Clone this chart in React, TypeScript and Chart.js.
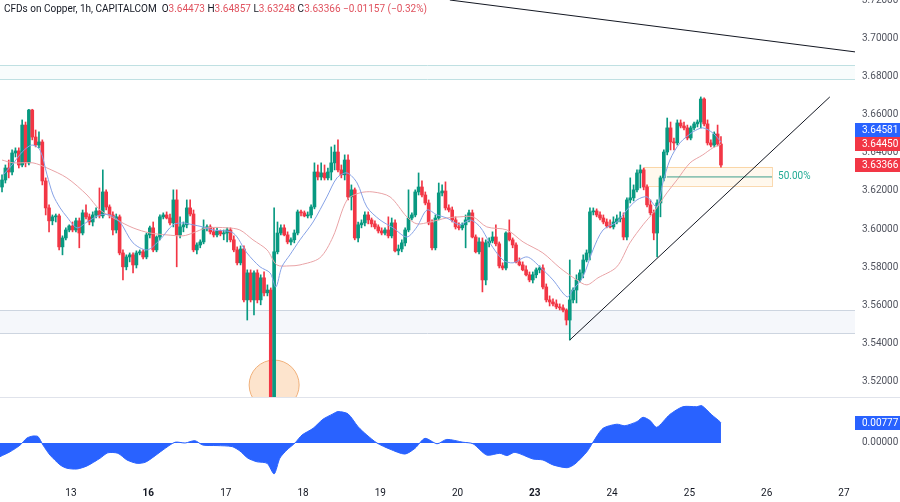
import React, { useEffect, useRef } from 'react';
import { Chart, registerables } from 'chart.js';

Chart.register(...registerables);

const FONT = 'Roboto, "Noto Sans", sans-serif';
Chart.defaults.font.family = FONT;

const UP = '#089981';
const DOWN = '#f23645';

// ---- candles (1h), index 0 .. 214 ----
const opens = [
  3.6221, 3.6258, 3.6321, 3.6300, 3.6400, 3.6411, 3.6337, 3.6547, 3.6348, 3.6626,
  3.6484, 3.6442, 3.6458, 3.6253, 3.6111, 3.6043, 3.6064, 3.6069, 3.5906, 3.5953,
  3.5995, 3.6016, 3.5995, 3.6043, 3.5979, 3.6085, 3.6064, 3.6037, 3.6074, 3.6095,
  3.6069, 3.6195, 3.6116, 3.6074, 3.5995, 3.6064, 3.5874, 3.5801, 3.5853, 3.5864,
  3.5811, 3.5874, 3.5880, 3.5853, 3.5969, 3.6006, 3.5890, 3.5958, 3.6064, 3.6074,
  3.6058, 3.6032, 3.6153, 3.5969, 3.6011, 3.6022, 3.6111, 3.6079, 3.5890, 3.5916,
  3.5932, 3.6006, 3.6011, 3.5985, 3.5969, 3.5990, 3.5974, 3.5979, 3.5995, 3.5943,
  3.5890, 3.5822, 3.5895, 3.5627, 3.5769, 3.5627, 3.5769, 3.5627, 3.5743, 3.5664,
  3.5679, 3.4880, 3.5880, 3.5979, 3.6006, 3.5969, 3.5932, 3.5943, 3.5979, 3.6090,
  3.6085, 3.6069, 3.6074, 3.6116, 3.6300, 3.6274, 3.6295, 3.6269, 3.6300, 3.6348,
  3.6405, 3.6311, 3.6285, 3.6363, 3.6169, 3.6206, 3.5953, 3.6022, 3.6032, 3.6074,
  3.6048, 3.6027, 3.6011, 3.5990, 3.5979, 3.5995, 3.5964, 3.6032, 3.5885, 3.5895,
  3.5927, 3.5995, 3.6058, 3.6074, 3.6195, 3.6221, 3.6179, 3.6137, 3.6032, 3.5901,
  3.6058, 3.6190, 3.6200, 3.6111, 3.6100, 3.6048, 3.6011, 3.6006, 3.6022, 3.6048,
  3.6085, 3.5958, 3.5880, 3.5932, 3.5732, 3.5927, 3.5937, 3.5958, 3.5922, 3.5806,
  3.5795, 3.5979, 3.5943, 3.5916, 3.5827, 3.5811, 3.5785, 3.5759, 3.5732, 3.5759,
  3.5785, 3.5795, 3.5695, 3.5627, 3.5616, 3.5606, 3.5590, 3.5585, 3.5574, 3.5521,
  3.5627, 3.5679, 3.5732, 3.5769, 3.5837, 3.5874, 3.6090, 3.6095, 3.6074, 3.6058,
  3.6037, 3.6016, 3.6011, 3.6037, 3.6053, 3.6058, 3.5958, 3.6153, 3.6164, 3.6206,
  3.6295, 3.6311, 3.6221, 3.6127, 3.6085, 3.5979, 3.6137, 3.6269, 3.6405, 3.6532,
  3.6458, 3.6453, 3.6558, 3.6542, 3.6532, 3.6479, 3.6532, 3.6553, 3.6563, 3.6684,
  3.6553, 3.6453, 3.6442, 3.6500, 3.64473,
];
const highs = [
  3.6285, 3.6337, 3.6363, 3.6416, 3.6427, 3.6427, 3.6574, 3.6563, 3.6630, 3.6630,
  3.6521, 3.6511, 3.6469, 3.6269, 3.6127, 3.6074, 3.6079, 3.6079, 3.5964, 3.6006,
  3.6022, 3.6037, 3.6058, 3.6058, 3.6100, 3.6127, 3.6079, 3.6090, 3.6111, 3.6216,
  3.6311, 3.6206, 3.6127, 3.6090, 3.6079, 3.6074, 3.5890, 3.5864, 3.5874, 3.5874,
  3.5885, 3.5890, 3.5890, 3.5979, 3.6016, 3.6037, 3.5964, 3.6074, 3.6085, 3.6090,
  3.6079, 3.6206, 3.6206, 3.6064, 3.6037, 3.6153, 3.6153, 3.6100, 3.5927, 3.5943,
  3.6048, 3.6022, 3.6022, 3.6006, 3.6006, 3.5995, 3.5995, 3.6006, 3.6006, 3.5964,
  3.5906, 3.5911, 3.5911, 3.5785, 3.5785, 3.5780, 3.5785, 3.5759, 3.5774, 3.5706,
  3.5690, 3.6111, 3.6037, 3.6022, 3.6022, 3.5985, 3.5953, 3.5995, 3.6100, 3.6100,
  3.6095, 3.6090, 3.6127, 3.6348, 3.6337, 3.6348, 3.6337, 3.6321, 3.6432, 3.6442,
  3.6469, 3.6337, 3.6390, 3.6390, 3.6232, 3.6216, 3.6037, 3.6048, 3.6090, 3.6090,
  3.6058, 3.6043, 3.6022, 3.6006, 3.6006, 3.6064, 3.6058, 3.6048, 3.5916, 3.5943,
  3.6006, 3.6206, 3.6085, 3.6206, 3.6295, 3.6253, 3.6195, 3.6153, 3.6048, 3.6074,
  3.6242, 3.6232, 3.6248, 3.6127, 3.6116, 3.6064, 3.6032, 3.6032, 3.6074, 3.6100,
  3.6100, 3.5969, 3.5953, 3.5953, 3.5943, 3.5953, 3.5985, 3.6022, 3.5932, 3.5822,
  3.5985, 3.6048, 3.5953, 3.5927, 3.5848, 3.5827, 3.5806, 3.5774, 3.5774, 3.5795,
  3.5806, 3.5811, 3.5711, 3.5648, 3.5632, 3.5627, 3.5606, 3.5601, 3.5580, 3.5837,
  3.5690, 3.5759, 3.5785, 3.5864, 3.5890, 3.6111, 3.6111, 3.6106, 3.6090, 3.6074,
  3.6053, 3.6048, 3.6064, 3.6074, 3.6090, 3.6085, 3.6164, 3.6269, 3.6232, 3.6311,
  3.6337, 3.6321, 3.6232, 3.6153, 3.6100, 3.6153, 3.6279, 3.6416, 3.6584, 3.6563,
  3.6479, 3.6574, 3.6574, 3.6563, 3.6547, 3.6542, 3.6563, 3.6574, 3.6695, 3.6690,
  3.6574, 3.6469, 3.6511, 3.6547, 3.64857,
];
const lows = [
  3.6195, 3.6242, 3.6269, 3.6285, 3.6379, 3.6321, 3.6327, 3.6327, 3.6337, 3.6469,
  3.6432, 3.6427, 3.6232, 3.6074, 3.5985, 3.6022, 3.6037, 3.5890, 3.5864, 3.5943,
  3.5985, 3.5985, 3.5985, 3.5901, 3.5969, 3.6053, 3.6022, 3.6016, 3.6058, 3.6058,
  3.6058, 3.6100, 3.6058, 3.5969, 3.5979, 3.5864, 3.5732, 3.5785, 3.5827, 3.5769,
  3.5795, 3.5864, 3.5843, 3.5843, 3.5953, 3.5880, 3.5880, 3.5943, 3.6053, 3.6053,
  3.6022, 3.6011, 3.5801, 3.5953, 3.5985, 3.6006, 3.6069, 3.5880, 3.5869, 3.5901,
  3.5922, 3.5990, 3.5974, 3.5958, 3.5958, 3.5964, 3.5943, 3.5932, 3.5932, 3.5880,
  3.5811, 3.5811, 3.5616, 3.5521, 3.5616, 3.5548, 3.5611, 3.5601, 3.5648, 3.5648,
  3.4850, 3.4850, 3.5869, 3.5969, 3.5964, 3.5922, 3.5916, 3.5927, 3.5969, 3.6069,
  3.6064, 3.6058, 3.6058, 3.6106, 3.6258, 3.6258, 3.6258, 3.6258, 3.6258, 3.6311,
  3.6300, 3.6269, 3.6258, 3.6153, 3.6100, 3.5943, 3.5932, 3.6006, 3.6016, 3.6027,
  3.6011, 3.6000, 3.5979, 3.5969, 3.5969, 3.5953, 3.5953, 3.5880, 3.5864, 3.5880,
  3.5911, 3.5985, 3.6048, 3.6064, 3.6179, 3.6169, 3.6127, 3.6022, 3.5890, 3.5890,
  3.6048, 3.6174, 3.6100, 3.6090, 3.6037, 3.6000, 3.5995, 3.5995, 3.5901, 3.6037,
  3.5953, 3.5874, 3.5869, 3.5669, 3.5706, 3.5906, 3.5927, 3.5911, 3.5795, 3.5785,
  3.5785, 3.5937, 3.5901, 3.5822, 3.5806, 3.5780, 3.5753, 3.5722, 3.5716, 3.5743,
  3.5769, 3.5685, 3.5616, 3.5595, 3.5595, 3.5580, 3.5574, 3.5564, 3.5495, 3.5416,
  3.5611, 3.5611, 3.5722, 3.5743, 3.5827, 3.5837, 3.6074, 3.6064, 3.6048, 3.6027,
  3.6006, 3.6006, 3.6000, 3.6027, 3.6037, 3.5943, 3.5943, 3.6137, 3.6148, 3.6195,
  3.6216, 3.6206, 3.6116, 3.6074, 3.5943, 3.5853, 3.6064, 3.6253, 3.6390, 3.6416,
  3.6416, 3.6442, 3.6532, 3.6521, 3.6469, 3.6469, 3.6521, 3.6537, 3.6532, 3.6542,
  3.6442, 3.6432, 3.6432, 3.6437, 3.63248,
];
const closes = [
  3.6258, 3.6321, 3.6300, 3.6400, 3.6411, 3.6337, 3.6547, 3.6348, 3.6626, 3.6484,
  3.6442, 3.6458, 3.6253, 3.6111, 3.6043, 3.6064, 3.6069, 3.5906, 3.5953, 3.5995,
  3.6016, 3.5995, 3.6043, 3.5979, 3.6085, 3.6064, 3.6037, 3.6074, 3.6095, 3.6069,
  3.6195, 3.6116, 3.6074, 3.5995, 3.6064, 3.5874, 3.5801, 3.5853, 3.5864, 3.5811,
  3.5874, 3.5880, 3.5853, 3.5969, 3.6006, 3.5890, 3.5958, 3.6064, 3.6074, 3.6058,
  3.6032, 3.6153, 3.5969, 3.6011, 3.6022, 3.6111, 3.6079, 3.5890, 3.5916, 3.5932,
  3.6006, 3.6011, 3.5985, 3.5969, 3.5990, 3.5974, 3.5979, 3.5995, 3.5943, 3.5890,
  3.5822, 3.5895, 3.5627, 3.5769, 3.5627, 3.5769, 3.5627, 3.5743, 3.5664, 3.5679,
  3.4880, 3.5880, 3.5979, 3.6006, 3.5969, 3.5932, 3.5943, 3.5979, 3.6090, 3.6085,
  3.6069, 3.6074, 3.6116, 3.6300, 3.6274, 3.6295, 3.6269, 3.6300, 3.6348, 3.6405,
  3.6311, 3.6285, 3.6363, 3.6169, 3.6206, 3.5953, 3.6022, 3.6032, 3.6074, 3.6048,
  3.6027, 3.6011, 3.5990, 3.5979, 3.5995, 3.5964, 3.6032, 3.5885, 3.5895, 3.5927,
  3.5995, 3.6058, 3.6074, 3.6195, 3.6221, 3.6179, 3.6137, 3.6032, 3.5901, 3.6058,
  3.6190, 3.6200, 3.6111, 3.6100, 3.6048, 3.6011, 3.6006, 3.6022, 3.6048, 3.6085,
  3.5958, 3.5880, 3.5932, 3.5732, 3.5927, 3.5937, 3.5958, 3.5922, 3.5806, 3.5795,
  3.5979, 3.5943, 3.5916, 3.5827, 3.5811, 3.5785, 3.5759, 3.5732, 3.5759, 3.5785,
  3.5795, 3.5695, 3.5627, 3.5616, 3.5606, 3.5590, 3.5585, 3.5574, 3.5521, 3.5627,
  3.5679, 3.5732, 3.5769, 3.5837, 3.5874, 3.6090, 3.6095, 3.6074, 3.6058, 3.6037,
  3.6016, 3.6011, 3.6037, 3.6053, 3.6058, 3.5958, 3.6153, 3.6164, 3.6206, 3.6295,
  3.6311, 3.6221, 3.6127, 3.6085, 3.5979, 3.6137, 3.6269, 3.6405, 3.6532, 3.6458,
  3.6453, 3.6558, 3.6542, 3.6532, 3.6479, 3.6532, 3.6553, 3.6563, 3.6684, 3.6553,
  3.6453, 3.6442, 3.6500, 3.6447, 3.63366,
];

// ---- moving averages (read at sample candles) ----
const fastMaIdx = [
  0.3, 3.0, 6.0, 8.9, 11.3, 13.4, 15.2, 17.3, 19.3, 22.3,
  25.3, 29.2, 32.1, 35.1, 39.0, 43.2, 47.0, 50.9, 53.9, 56.8,
  59.8, 62.8, 68.8, 72.9, 76.8, 79.8, 81.5, 83.3, 85.7, 88.7,
  92.6, 96.7, 99.7, 102.7, 105.7, 108.6, 112.5, 116.4, 120.5, 123.5,
  126.5, 129.5, 132.4, 136.3, 139.3, 142.3, 145.2, 149.1, 152.1, 156.3,
  160.1, 164.0, 168.2, 169.9, 172.9, 175.9, 178.9, 183.0, 186.0, 189.0,
  192.0, 194.9, 196.7, 198.8, 201.8, 205.7, 208.6, 211.6, 214,
];
const fastMaVal = [
  3.6285, 3.6337, 3.6405, 3.6442, 3.6416, 3.6285, 3.6179, 3.6111, 3.6064, 3.6006,
  3.6037, 3.6074, 3.6074, 3.6037, 3.5927, 3.5890, 3.5943, 3.6022, 3.6032, 3.6022,
  3.6011, 3.5995, 3.5979, 3.5874, 3.5801, 3.5769, 3.5695, 3.5801, 3.5864, 3.5943,
  3.6037, 3.6169, 3.6269, 3.6295, 3.6242, 3.6116, 3.6048, 3.6006, 3.5958, 3.6011,
  3.6100, 3.6074, 3.6058, 3.6022, 3.6048, 3.6011, 3.5927, 3.5837, 3.5822, 3.5853,
  3.5801, 3.5732, 3.5643, 3.5679, 3.5748, 3.5890, 3.5995, 3.6037, 3.6100, 3.6153,
  3.6169, 3.6116, 3.6242, 3.6363, 3.6453, 3.6511, 3.6532, 3.6505, 3.64581,
];
const slowMaIdx = [
  0, 3.3, 9.2, 13.4, 19.3, 25.3, 29.2, 34.2, 39.0, 44.0,
  49.1, 53.9, 56.8, 61.0, 67.0, 70.8, 74.7, 78.9, 81.8, 85.7,
  88.7, 94.6, 98.5, 102.7, 106.5, 110.4, 115.5, 120.5, 123.5, 127.4,
  132.4, 136.3, 140.2, 144.3, 150.3, 155.1, 161.0, 166.1, 171.1, 174.1,
  177.4, 183.0, 186.9, 190.8, 193.8, 197.9, 200.9, 204.8, 208.6, 211.6,
  214,
];
const slowMaVal = [
  3.6363, 3.6348, 3.6348, 3.6321, 3.6269, 3.6179, 3.6100, 3.6048, 3.6006, 3.5979,
  3.5969, 3.5964, 3.5979, 3.6006, 3.6006, 3.5995, 3.5943, 3.5890, 3.5811, 3.5806,
  3.5811, 3.5848, 3.5958, 3.6153, 3.6190, 3.6195, 3.6169, 3.6064, 3.6027, 3.6037,
  3.6058, 3.6064, 3.6064, 3.6011, 3.5995, 3.5932, 3.5874, 3.5795, 3.5732, 3.5706,
  3.5743, 3.5801, 3.5927, 3.6022, 3.6085, 3.6190, 3.6258, 3.6348, 3.6390, 3.6427,
  3.64450,
];

// ---- lower oscillator ----
const oscIdx = [
  -0.6, 2.4, 5.4, 7.4, 9.2, 10.7, 12.2, 14.3, 17.3, 19.3,
  22.3, 25.3, 29.2, 31.5, 34.5, 37.2, 40.2, 42.6, 44.9, 47.9,
  51.5, 54.5, 57.4, 59.8, 64.0, 68.5, 70.8, 73.2, 75.9, 78.9,
  81.0, 82.7, 84.8, 87.2, 89.3, 92.6, 95.5, 98.5, 100.0, 103.0,
  106.0, 108.6, 111.6, 115.5, 119.9, 122.9, 125.9, 129.5, 132.4, 137.2,
  140.2, 144.3, 148.2, 150.3, 152.7, 158.0, 161.0, 164.0, 168.2, 170.5,
  174.1, 175.9, 178.9, 183.0, 185.4, 189.0, 190.8, 192.9, 194.9, 198.8,
  202.7, 206.8, 208.3, 211.3, 213.7, 214,
];
const oscVal = [
  -0.0053, -0.0034, -0.0008, 0.0019, 0.0027, 0.0025, -0.0008, -0.0047, -0.0085, -0.0098,
  -0.0101, -0.0089, -0.0059, -0.0038, -0.0040, -0.0066, -0.0079, -0.0075, -0.0056, -0.0027,
  0.0003, 0.0000, 0.0009, -0.0008, -0.0010, -0.0014, -0.0031, -0.0059, -0.0073, -0.0079,
  -0.0120, -0.0059, -0.0027, 0.0000, 0.0031, 0.0057, 0.0092, 0.0113, 0.0122, 0.0113,
  0.0063, 0.0031, 0.0000, -0.0024, -0.0043, -0.0021, 0.0018, -0.0003, 0.0014, 0.0003,
  -0.0003, -0.0047, -0.0040, -0.0049, -0.0036, -0.0062, -0.0066, -0.0085, -0.0096, -0.0082,
  -0.0034, 0.0003, 0.0057, 0.0073, 0.0067, 0.0083, 0.0100, 0.0087, 0.0061, 0.0111,
  0.0141, 0.0141, 0.0145, 0.0109, 0.0083, 0.00777,
];

// ---- axes ----
const priceTicks = [3.52, 3.54, 3.56, 3.58, 3.6, 3.62, 3.64, 3.66, 3.68, 3.7, 3.72];
const dayTicks = [20.5, 43.5, 66.6, 89.6, 112.6, 135.6, 158.6, 181.6, 204.6, 227.6, 250.6];
const dayLabels = ['13', '16', '17', '18', '19', '20', '23', '24', '25', '26', '27'];
const weekStarts = ['16', '23'];

// ---- drawings ----
const upperZone = [3.6789, 3.6863];
const lowerZone = [3.5453, 3.5574];
const trendDownIdx = [133.3, 253.9];
const trendDownPrice = [3.7205, 3.6932];
const trendUpIdx = [169, 246.4];
const trendUpPrice = [3.5416, 3.6695];
const fibBoxIdx = [191.1, 229.2];
const fibBoxPrice = [3.6227, 3.6327];
const fibLineIdx = [197.9, 229.2];
const fibMid = 3.6274;
const circleAt = [81.0, 3.5179];

const X_MIN = -0.6;
const X_MAX = 253.9;
const Y_MIN = 3.5116;
const Y_MAX = 3.7205;
const OSC_MIN = -0.01515;
const OSC_MAX = 0.01748;
const AXIS_W = 45;
const AXIS_FONT = { family: FONT, size: 10 };

function fixYAxis(scale: any) {
  scale.width = AXIS_W;
  scale.paddingTop = 0;
  scale.paddingBottom = 0;
}

function priceBox(ctx: any, a: any, yc: number, text: string, color: string) {
  const h = 14;
  ctx.fillStyle = color;
  ctx.fillRect(a.right, Math.round(yc - h / 2), 900 - a.right, h);
  ctx.fillStyle = '#ffffff';
  ctx.font = `10px ${FONT}`;
  ctx.textAlign = 'left';
  ctx.textBaseline = 'middle';
  ctx.fillText(text, a.right + 7, Math.round(yc) + 0.5);
}

const decorPlugin = {
  id: 'decor',
  beforeDatasetsDraw(chart: any) {
    const { ctx, chartArea: a, scales } = chart;
    const xs = scales.x;
    const ys = scales.y;
    ctx.save();
    ctx.beginPath();
    ctx.rect(a.left, a.top, a.right - a.left, a.bottom - a.top);
    ctx.clip();
    const zone = (lo: number, hi: number, fill: string, line: string) => {
      const y1 = ys.getPixelForValue(hi);
      const y2 = ys.getPixelForValue(lo);
      ctx.fillStyle = fill;
      ctx.fillRect(a.left, y1, a.right - a.left, y2 - y1);
      ctx.strokeStyle = line;
      ctx.lineWidth = 1;
      [y1, y2].forEach((yy) => {
        const p = Math.round(yy) + 0.5;
        ctx.beginPath();
        ctx.moveTo(a.left, p);
        ctx.lineTo(a.right, p);
        ctx.stroke();
      });
    };
    zone(upperZone[0], upperZone[1], '#f8fcfc', '#bfe0e2');
    zone(lowerZone[0], lowerZone[1], '#f5f7fb', '#cdd5e0');

    // fib box
    const bx1 = xs.getPixelForValue(fibBoxIdx[0]);
    const bx2 = xs.getPixelForValue(fibBoxIdx[1]);
    const by1 = ys.getPixelForValue(fibBoxPrice[1]);
    const by2 = ys.getPixelForValue(fibBoxPrice[0]);
    ctx.fillStyle = 'rgba(255,152,0,0.07)';
    ctx.fillRect(bx1, by1, bx2 - bx1, by2 - by1);
    ctx.strokeStyle = 'rgba(245,170,80,0.45)';
    ctx.strokeRect(Math.round(bx1) + 0.5, Math.round(by1) + 0.5, Math.round(bx2 - bx1), Math.round(by2 - by1));

    // circle
    const cx = xs.getPixelForValue(circleAt[0]);
    const cy = ys.getPixelForValue(circleAt[1]);
    ctx.beginPath();
    ctx.arc(cx, cy, 25, 0, Math.PI * 2);
    ctx.fillStyle = '#fde4cd';
    ctx.fill();
    ctx.strokeStyle = '#f0b07a';
    ctx.lineWidth = 1;
    ctx.stroke();
    ctx.restore();
  },
  afterDatasetsDraw(chart: any) {
    const { ctx, scales } = chart;
    const xs = scales.x;
    const ys = scales.y;
    ctx.save();
    ctx.fillStyle = '#22ab94';
    ctx.font = `10px ${FONT}`;
    ctx.textAlign = 'left';
    ctx.textBaseline = 'middle';
    ctx.fillText('50.00%', xs.getPixelForValue(fibBoxIdx[1]) + 6, ys.getPixelForValue(fibMid));
    ctx.restore();
  },
  afterDraw(chart: any) {
    const { ctx, chartArea: a, scales } = chart;
    const ys = scales.y;
    const last = closes.length - 1;
    const items = [
      { v: fastMaVal[fastMaVal.length - 1], c: '#2962ff' },
      { v: slowMaVal[slowMaVal.length - 1], c: DOWN },
      { v: closes[last], c: closes[last] >= opens[last] ? UP : DOWN },
    ].map((it) => ({ ...it, y: ys.getPixelForValue(it.v) }));
    items.sort((p, q) => q.y - p.y);
    for (let i = 1; i < items.length; i++) {
      if (items[i].y > items[i - 1].y - 14) items[i].y = items[i - 1].y - 14;
    }
    ctx.save();
    items.forEach((it) => priceBox(ctx, a, it.y, it.v.toFixed(5), it.c));
    ctx.restore();
  },
};

const oscPlugin = {
  id: 'oscLabel',
  afterDraw(chart: any) {
    const { ctx, chartArea: a, scales } = chart;
    const v = oscVal[oscVal.length - 1];
    ctx.save();
    priceBox(ctx, a, scales.y.getPixelForValue(v), v.toFixed(5), '#2962ff');
    ctx.restore();
  },
};

export default function App() {
  const mainRef = useRef<HTMLCanvasElement>(null);
  const oscRef = useRef<HTMLCanvasElement>(null);

  useEffect(() => {
    const colorOf = (c: any) => {
      const i = c.dataIndex;
      return closes[i] >= opens[i] ? UP : DOWN;
    };
    const bodyData = closes.map((c, i) => ({ x: i, y: [opens[i], c] }));
    const wickData = closes.map((_, i) => ({ x: i, y: [lows[i], highs[i]] }));
    const pts = (xs: number[], vs: number[]) => xs.map((x, i) => ({ x, y: vs[i] }));

    const main = new Chart(mainRef.current as HTMLCanvasElement, {
      type: 'bar',
      data: {
        datasets: [
          {
            type: 'line', data: pts(trendDownIdx, trendDownPrice), borderColor: '#131722',
            borderWidth: 1, pointRadius: 0, order: 0,
          } as any,
          {
            type: 'line', data: pts(trendUpIdx, trendUpPrice), borderColor: '#131722',
            borderWidth: 1, pointRadius: 0, order: 0,
          } as any,
          {
            type: 'line', data: pts(fibLineIdx, [fibMid, fibMid]), borderColor: '#3d9e8c',
            borderWidth: 1, pointRadius: 0, order: 0,
          } as any,
          {
            type: 'line', data: pts(fastMaIdx, fastMaVal), borderColor: '#86a2e6',
            borderWidth: 1, pointRadius: 0, tension: 0.3, order: 1,
          } as any,
          {
            type: 'line', data: pts(slowMaIdx, slowMaVal), borderColor: '#e9a3a6',
            borderWidth: 1, pointRadius: 0, tension: 0.3, order: 1,
          } as any,
          {
            type: 'bar', data: bodyData, backgroundColor: colorOf, barThickness: 3,
            minBarLength: 1, grouped: false, order: 2,
          } as any,
          {
            type: 'bar', data: wickData, backgroundColor: colorOf, barThickness: 1,
            grouped: false, order: 3,
          } as any,
        ],
      },
      options: {
        responsive: false,
        animation: false,
        events: [],
        layout: { padding: 0 },
        plugins: { legend: { display: false }, tooltip: { enabled: false } },
        scales: {
          x: { type: 'linear', min: X_MIN, max: X_MAX, display: false, offset: false },
          y: {
            type: 'linear', position: 'right', min: Y_MIN, max: Y_MAX,
            grid: { display: false, drawTicks: false }, border: { display: false },
            afterBuildTicks: (s: any) => { s.ticks = priceTicks.map((v) => ({ value: v })); },
            afterFit: fixYAxis,
            ticks: {
              callback: (v: any) => Number(v).toFixed(5), color: '#50535e',
              font: AXIS_FONT, padding: 7,
            },
          },
        },
      } as any,
      plugins: [decorPlugin],
    });

    const osc = new Chart(oscRef.current as HTMLCanvasElement, {
      type: 'line',
      data: {
        datasets: [
          {
            data: pts(oscIdx, oscVal), borderColor: '#2962ff', backgroundColor: '#2962ff',
            fill: 'origin', borderWidth: 1, pointRadius: 0, tension: 0.25,
          },
        ],
      },
      options: {
        responsive: false,
        animation: false,
        events: [],
        layout: { padding: 0 },
        plugins: { legend: { display: false }, tooltip: { enabled: false } },
        scales: {
          x: {
            type: 'linear', min: X_MIN, max: X_MAX, offset: false,
            grid: { display: false, drawTicks: false }, border: { display: false },
            afterBuildTicks: (s: any) => { s.ticks = dayTicks.map((v) => ({ value: v })); },
            afterFit: (s: any) => { s.height = 20; s.paddingLeft = 0; s.paddingRight = 0; },
            ticks: {
              autoSkip: false, maxRotation: 0, padding: 5, color: '#131722',
              callback: (_v: any, i: number) => dayLabels[i],
              font: (c: any) => ({
                family: FONT, size: 10,
                weight: weekStarts.includes(dayLabels[c.index]) ? 'bold' : 'normal',
              }),
            },
          },
          y: {
            type: 'linear', position: 'right', min: OSC_MIN, max: OSC_MAX,
            grid: { display: false, drawTicks: false }, border: { display: false },
            afterBuildTicks: (s: any) => { s.ticks = [{ value: 0 }]; },
            afterFit: fixYAxis,
            ticks: {
              callback: (v: any) => Number(v).toFixed(5), color: '#50535e',
              font: AXIS_FONT, padding: 7,
            },
          },
        },
      } as any,
      plugins: [oscPlugin],
    });

    return () => {
      main.destroy();
      osc.destroy();
    };
  }, []);

  const red = { color: '#e0525e' };
  return (
    <div style={{ position: 'fixed', left: 0, top: 0, width: 900, height: 502, background: '#ffffff', overflow: 'hidden' }}>
      <canvas ref={mainRef} width={900} height={397} style={{ position: 'absolute', left: 0, top: 0 }} />
      <div style={{ position: 'absolute', left: 0, top: 397, width: 900, height: 1, background: '#e0e3eb' }} />
      <canvas ref={oscRef} width={900} height={104} style={{ position: 'absolute', left: 0, top: 398 }} />
      <div style={{ position: 'absolute', left: 4, top: 2, font: `10px ${FONT}`, color: '#131722', whiteSpace: 'pre', lineHeight: '13px' }}>
        <span>CFDs on Copper, 1h, CAPITALCOM</span>
        <span>{'  O'}</span><span style={red}>3.64473</span>
        <span>{' H'}</span><span style={red}>3.64857</span>
        <span>{' L'}</span><span style={red}>3.63248</span>
        <span>{' C'}</span><span style={red}>3.63366</span>
        <span style={red}>{' \u22120.01157 (\u22120.32%)'}</span>
      </div>
    </div>
  );
}
